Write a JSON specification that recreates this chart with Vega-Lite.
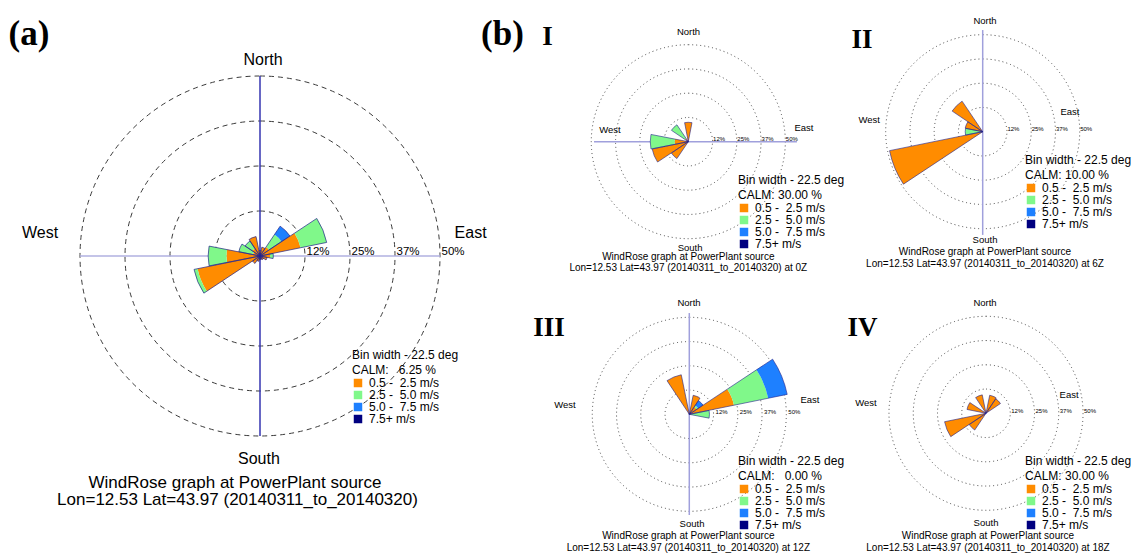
{
"$schema": "https://vega.github.io/schema/vega-lite/v6.json",
"padding": 0,
"background": "white",
"config": {
 "view": {"stroke": null},
 "axis": {"disable": true},
 "text": {"font": "Liberation Sans", "color": "#000"},
 "legend": {"titleFont": "Liberation Sans", "titleFontSize": 12, "titleFontWeight": "normal", "titleColor": "#000", "titleLineHeight": 15, "titlePadding": 0, "labelFont": "Liberation Sans", "labelFontSize": 12, "labelColor": "#000", "symbolType": "square", "symbolSize": 72, "symbolStrokeWidth": 0, "symbolOpacity": 1, "rowPadding": -0.5, "padding": 0, "labelOffset": 5, "orient": "none", "titleLimit": 400, "labelLimit": 400}
},
"datasets": {
 "one": [{"n": 1}],
 "rings": [{"r": 12.5, "lab": "12%"}, {"r": 25, "lab": "25%"}, {"r": 37.5, "lab": "37%"}, {"r": 50, "lab": "50%"}],
 "wind": [
  {"panel":"a","dir":0,"speed":"0.5 -\u00a0\u00a02.5 m/s","pct":1.5},
  {"panel":"a","dir":22.5,"speed":"0.5 -\u00a0\u00a02.5 m/s","pct":2.5},
  {"panel":"a","dir":45,"speed":"0.5 -\u00a0\u00a02.5 m/s","pct":3.0},
  {"panel":"a","dir":45,"speed":"2.5 -\u00a0\u00a05.0 m/s","pct":4.2},
  {"panel":"a","dir":45,"speed":"5.0 -\u00a0\u00a07.5 m/s","pct":2.8},
  {"panel":"a","dir":67.5,"speed":"0.5 -\u00a0\u00a02.5 m/s","pct":11.5},
  {"panel":"a","dir":67.5,"speed":"2.5 -\u00a0\u00a05.0 m/s","pct":7.4},
  {"panel":"a","dir":90,"speed":"0.5 -\u00a0\u00a02.5 m/s","pct":2.8},
  {"panel":"a","dir":90,"speed":"2.5 -\u00a0\u00a05.0 m/s","pct":0.9},
  {"panel":"a","dir":112.5,"speed":"0.5 -\u00a0\u00a02.5 m/s","pct":2.0},
  {"panel":"a","dir":135,"speed":"0.5 -\u00a0\u00a02.5 m/s","pct":1.2},
  {"panel":"a","dir":157.5,"speed":"0.5 -\u00a0\u00a02.5 m/s","pct":1.0},
  {"panel":"a","dir":180,"speed":"0.5 -\u00a0\u00a02.5 m/s","pct":1.0},
  {"panel":"a","dir":202.5,"speed":"0.5 -\u00a0\u00a02.5 m/s","pct":1.5},
  {"panel":"a","dir":225,"speed":"0.5 -\u00a0\u00a02.5 m/s","pct":2.5},
  {"panel":"a","dir":247.5,"speed":"0.5 -\u00a0\u00a02.5 m/s","pct":17.7},
  {"panel":"a","dir":247.5,"speed":"2.5 -\u00a0\u00a05.0 m/s","pct":1.0},
  {"panel":"a","dir":270,"speed":"0.5 -\u00a0\u00a02.5 m/s","pct":9.3},
  {"panel":"a","dir":270,"speed":"2.5 -\u00a0\u00a05.0 m/s","pct":5.1},
  {"panel":"a","dir":292.5,"speed":"0.5 -\u00a0\u00a02.5 m/s","pct":2.0},
  {"panel":"a","dir":292.5,"speed":"2.5 -\u00a0\u00a05.0 m/s","pct":4.0},
  {"panel":"a","dir":315,"speed":"0.5 -\u00a0\u00a02.5 m/s","pct":2.5},
  {"panel":"a","dir":315,"speed":"2.5 -\u00a0\u00a05.0 m/s","pct":2.5},
  {"panel":"a","dir":337.5,"speed":"0.5 -\u00a0\u00a02.5 m/s","pct":5.5},
  {"panel":"0Z","dir":0,"speed":"0.5 -\u00a0\u00a02.5 m/s","pct":10},
  {"panel":"0Z","dir":225,"speed":"0.5 -\u00a0\u00a02.5 m/s","pct":10.5},
  {"panel":"0Z","dir":247.5,"speed":"0.5 -\u00a0\u00a02.5 m/s","pct":19},
  {"panel":"0Z","dir":270,"speed":"0.5 -\u00a0\u00a02.5 m/s","pct":7},
  {"panel":"0Z","dir":270,"speed":"2.5 -\u00a0\u00a05.0 m/s","pct":12.6},
  {"panel":"0Z","dir":315,"speed":"0.5 -\u00a0\u00a02.5 m/s","pct":2},
  {"panel":"0Z","dir":315,"speed":"2.5 -\u00a0\u00a05.0 m/s","pct":8.5},
  {"panel":"6Z","dir":247.5,"speed":"0.5 -\u00a0\u00a02.5 m/s","pct":49},
  {"panel":"6Z","dir":270,"speed":"0.5 -\u00a0\u00a02.5 m/s","pct":0.5},
  {"panel":"6Z","dir":270,"speed":"2.5 -\u00a0\u00a05.0 m/s","pct":8.5},
  {"panel":"6Z","dir":292.5,"speed":"0.5 -\u00a0\u00a02.5 m/s","pct":9.2},
  {"panel":"6Z","dir":315,"speed":"0.5 -\u00a0\u00a02.5 m/s","pct":19},
  {"panel":"12Z","dir":22.5,"speed":"0.5 -\u00a0\u00a02.5 m/s","pct":10},
  {"panel":"12Z","dir":45,"speed":"0.5 -\u00a0\u00a02.5 m/s","pct":4.5},
  {"panel":"12Z","dir":45,"speed":"2.5 -\u00a0\u00a05.0 m/s","pct":1},
  {"panel":"12Z","dir":45,"speed":"5.0 -\u00a0\u00a07.5 m/s","pct":3},
  {"panel":"12Z","dir":67.5,"speed":"0.5 -\u00a0\u00a02.5 m/s","pct":23.5},
  {"panel":"12Z","dir":67.5,"speed":"2.5 -\u00a0\u00a05.0 m/s","pct":18},
  {"panel":"12Z","dir":67.5,"speed":"5.0 -\u00a0\u00a07.5 m/s","pct":10},
  {"panel":"12Z","dir":90,"speed":"0.5 -\u00a0\u00a02.5 m/s","pct":1},
  {"panel":"12Z","dir":90,"speed":"2.5 -\u00a0\u00a05.0 m/s","pct":9.4},
  {"panel":"12Z","dir":337.5,"speed":"0.5 -\u00a0\u00a02.5 m/s","pct":20.8},
  {"panel":"18Z","dir":22.5,"speed":"0.5 -\u00a0\u00a02.5 m/s","pct":9.5},
  {"panel":"18Z","dir":45,"speed":"0.5 -\u00a0\u00a02.5 m/s","pct":9},
  {"panel":"18Z","dir":225,"speed":"0.5 -\u00a0\u00a02.5 m/s","pct":10.4},
  {"panel":"18Z","dir":247.5,"speed":"0.5 -\u00a0\u00a02.5 m/s","pct":21.8},
  {"panel":"18Z","dir":292.5,"speed":"0.5 -\u00a0\u00a02.5 m/s","pct":10},
  {"panel":"18Z","dir":337.5,"speed":"0.5 -\u00a0\u00a02.5 m/s","pct":9.7}
 ]
},
"columns": 3,
"spacing": 0,
"bounds": "flush",
"align": "each",
"resolve": {"scale": {"color": "independent", "radius": "independent", "theta": "independent"}, "legend": {"color": "independent"}},
"concat": [
 {
  "width": 470, "height": 283,
  "layer": [
   {"data": {"name": "rings"}, "mark": {"type": "arc", "filled": false, "stroke": "#3a3a3a", "strokeWidth": 1, "strokeDash": [5, 4]},
    "encoding": {
     "x": {"datum": 0, "type": "quantitative", "scale": {"domain": [-72.22, 58.33], "nice": false, "zero": false}, "axis": null},
     "y": {"datum": 0, "type": "quantitative", "scale": {"domain": [-7.5, 71.11], "nice": false, "zero": false}, "axis": null},
     "radius": {"field": "r", "type": "quantitative", "stack": null, "scale": {"type": "linear", "domain": [0, 50], "range": [0, 180], "zero": true, "nice": false}},
     "theta": {"datum": 0, "type": "quantitative", "scale": {"domain": [0, 360], "range": [0, 6.2832]}},
     "theta2": {"datum": 360}}},
   {"data": {"name": "rings"}, "mark": {"type": "text", "fontSize": 11.5, "align": "left", "baseline": "alphabetic", "dx": 1.5},
    "encoding": {"text": {"field": "lab"}, "x": {"field": "r", "type": "quantitative", "axis": null}, "y": {"datum": 0.3, "type": "quantitative", "axis": null}}},
   {"data": {"name": "one"}, "mark": {"type": "rule", "color": "#3535b0", "strokeWidth": 1.5},
    "encoding": {"x": {"datum": 0, "type": "quantitative", "axis": null}, "y": {"datum": -50, "type": "quantitative", "axis": null}, "y2": {"datum": 50}}},
   {"data": {"name": "one"}, "mark": {"type": "rule", "color": "#b0b0e0", "strokeWidth": 1.5},
    "encoding": {"y": {"datum": 0, "type": "quantitative", "axis": null}, "x": {"datum": -50, "type": "quantitative", "axis": null}, "x2": {"datum": 50}}},
   {"data": {"name": "wind"},
    "transform": [{"filter": "datum.panel === 'a'"}, {"stack": "pct", "groupby": ["dir"], "sort": [{"field": "speed"}], "as": ["r0", "r1"]}, {"calculate": "datum.dir - 11", "as": "a0"}, {"calculate": "datum.dir + 11", "as": "a1"}],
    "mark": {"type": "arc", "opacity": 1},
    "encoding": {
     "x": {"datum": 0, "type": "quantitative", "axis": null},
     "y": {"datum": 0, "type": "quantitative", "axis": null},
     "theta": {"field": "a0", "type": "quantitative", "stack": null, "scale": {"domain": [0, 360], "range": [0, 6.2832]}},
     "theta2": {"field": "a1"},
     "radius": {"field": "r1", "type": "quantitative", "stack": null, "scale": {"type": "linear", "domain": [0, 50], "range": [0, 180], "zero": true, "nice": false}},
     "radius2": {"field": "r0"},
     "color": {"field": "speed", "type": "nominal",
      "scale": {"domain": ["0.5 -\u00a0\u00a02.5 m/s", "2.5 -\u00a0\u00a05.0 m/s", "5.0 -\u00a0\u00a07.5 m/s", "7.5+ m/s"], "range": ["#FF8C00", "#80F88A", "#1E80FF", "#000080"]},
      "legend": {"title": ["Bin width - 22.5 deg", "CALM:\u00a0\u00a0\u00a06.25 %"], "legendX": 352, "legendY": 350}}}},
   {"data": {"name": "wind"},
    "transform": [{"filter": "datum.panel === 'a'"}, {"aggregate": [{"op": "sum", "field": "pct", "as": "tot"}], "groupby": ["dir"]}, {"calculate": "datum.dir - 11", "as": "a0"}, {"calculate": "datum.dir + 11", "as": "a1"}],
    "mark": {"type": "arc", "filled": false, "stroke": "#22228c", "strokeWidth": 0.7},
    "encoding": {"x": {"datum": 0, "type": "quantitative", "axis": null}, "y": {"datum": 0, "type": "quantitative", "axis": null},
     "theta": {"field": "a0", "type": "quantitative", "stack": null}, "theta2": {"field": "a1"},
     "radius": {"field": "tot", "type": "quantitative", "stack": null}}},
   {"data": {"name": "one"}, "mark": {"type": "text", "fontSize": 16, "align": "center", "baseline": "middle"},
    "encoding": {"text": {"value": "North"}, "x": {"datum": 0.83, "type": "quantitative", "axis": null}, "y": {"datum": 54.4, "type": "quantitative", "axis": null}}},
   {"data": {"name": "one"}, "mark": {"type": "text", "fontSize": 16, "align": "center", "baseline": "middle"},
    "encoding": {"text": {"value": "South"}, "x": {"datum": -0.3, "type": "quantitative", "axis": null}, "y": {"datum": -56.4, "type": "quantitative", "axis": null}}},
   {"data": {"name": "one"}, "mark": {"type": "text", "fontSize": 16, "align": "center", "baseline": "middle"},
    "encoding": {"text": {"value": "West"}, "x": {"datum": -61.1, "type": "quantitative", "axis": null}, "y": {"datum": 6.25, "type": "quantitative", "axis": null}}},
   {"data": {"name": "one"}, "mark": {"type": "text", "fontSize": 16, "align": "center", "baseline": "middle"},
    "encoding": {"text": {"value": "East"}, "x": {"datum": 58.5, "type": "quantitative", "axis": null}, "y": {"datum": 6.25, "type": "quantitative", "axis": null}}},
   {"data": {"name": "one"}, "mark": {"type": "text", "fontSize": 35, "fontWeight": "bold", "font": "Liberation Serif", "align": "center", "baseline": "middle"},
    "encoding": {"text": {"value": "(a)"}, "x": {"datum": -64.17, "type": "quantitative", "axis": null}, "y": {"datum": 61.67, "type": "quantitative", "axis": null}}}
  ]
 },
 {
  "width": 315, "height": 283,
  "layer": [
   {"data": {"name": "rings"}, "mark": {"type": "arc", "filled": false, "stroke": "#444", "strokeWidth": 1, "strokeDash": [1, 3]},
    "encoding": {
     "x": {"datum": 0, "type": "quantitative", "scale": {"domain": [-112.53, 49.85], "nice": false, "zero": false}, "axis": null},
     "y": {"datum": 0, "type": "quantitative", "scale": {"domain": [-72.84, 73.04], "nice": false, "zero": false}, "axis": null},
     "radius": {"field": "r", "type": "quantitative", "stack": null, "scale": {"type": "linear", "domain": [0, 50], "range": [0, 97], "zero": true, "nice": false}},
     "theta": {"datum": 0, "type": "quantitative", "scale": {"domain": [0, 360], "range": [0, 6.2832]}},
     "theta2": {"datum": 360}}},
   {"data": {"name": "rings"}, "mark": {"type": "text", "fontSize": 6, "align": "left", "baseline": "alphabetic", "dx": 0.5},
    "encoding": {"text": {"field": "lab"}, "x": {"field": "r", "type": "quantitative", "axis": null}, "y": {"datum": 0.3, "type": "quantitative", "axis": null}}},
   {"data": {"name": "one"}, "mark": {"type": "rule", "color": "#a0a0dc", "strokeWidth": 1.5},
    "encoding": {"y": {"datum": 0, "type": "quantitative", "axis": null}, "x": {"datum": -48.6, "type": "quantitative", "axis": null}, "x2": {"datum": 56}}},
   {"data": {"name": "wind"},
    "transform": [{"filter": "datum.panel === '0Z'"}, {"stack": "pct", "groupby": ["dir"], "sort": [{"field": "speed"}], "as": ["r0", "r1"]}, {"calculate": "datum.dir - 11", "as": "a0"}, {"calculate": "datum.dir + 11", "as": "a1"}],
    "mark": {"type": "arc", "opacity": 1},
    "encoding": {
     "x": {"datum": 0, "type": "quantitative", "axis": null},
     "y": {"datum": 0, "type": "quantitative", "axis": null},
     "theta": {"field": "a0", "type": "quantitative", "stack": null, "scale": {"domain": [0, 360], "range": [0, 6.2832]}},
     "theta2": {"field": "a1"},
     "radius": {"field": "r1", "type": "quantitative", "stack": null, "scale": {"type": "linear", "domain": [0, 50], "range": [0, 97], "zero": true, "nice": false}},
     "radius2": {"field": "r0"},
     "color": {"field": "speed", "type": "nominal",
      "scale": {"domain": ["0.5 -\u00a0\u00a02.5 m/s", "2.5 -\u00a0\u00a05.0 m/s", "5.0 -\u00a0\u00a07.5 m/s", "7.5+ m/s"], "range": ["#FF8C00", "#80F88A", "#1E80FF", "#000080"]},
      "legend": {"title": ["Bin width - 22.5 deg", "CALM: 30.00 %"], "legendX": 268, "legendY": 175}}}},
   {"data": {"name": "wind"},
    "transform": [{"filter": "datum.panel === '0Z'"}, {"aggregate": [{"op": "sum", "field": "pct", "as": "tot"}], "groupby": ["dir"]}, {"calculate": "datum.dir - 11", "as": "a0"}, {"calculate": "datum.dir + 11", "as": "a1"}],
    "mark": {"type": "arc", "filled": false, "stroke": "#22228c", "strokeWidth": 0.6},
    "encoding": {"x": {"datum": 0, "type": "quantitative", "axis": null}, "y": {"datum": 0, "type": "quantitative", "axis": null},
     "theta": {"field": "a0", "type": "quantitative", "stack": null}, "theta2": {"field": "a1"},
     "radius": {"field": "tot", "type": "quantitative", "stack": null}}},
   {"data": {"name": "one"}, "mark": {"type": "text", "fontSize": 9.5, "align": "center", "baseline": "middle"},
    "encoding": {"text": {"value": "North"}, "x": {"datum": 0.1, "type": "quantitative", "axis": null}, "y": {"datum": 56.7, "type": "quantitative", "axis": null}}},
   {"data": {"name": "one"}, "mark": {"type": "text", "fontSize": 9.5, "align": "center", "baseline": "middle"},
    "encoding": {"text": {"value": "South"}, "x": {"datum": 0.9, "type": "quantitative", "axis": null}, "y": {"datum": -54.8, "type": "quantitative", "axis": null}}},
   {"data": {"name": "one"}, "mark": {"type": "text", "fontSize": 9.5, "align": "center", "baseline": "middle"},
    "encoding": {"text": {"value": "West"}, "x": {"datum": -40.4, "type": "quantitative", "axis": null}, "y": {"datum": 6.0, "type": "quantitative", "axis": null}}},
   {"data": {"name": "one"}, "mark": {"type": "text", "fontSize": 9.5, "align": "center", "baseline": "middle"},
    "encoding": {"text": {"value": "East"}, "x": {"datum": 59.6, "type": "quantitative", "axis": null}, "y": {"datum": 7.1, "type": "quantitative", "axis": null}}},
   {"data": {"name": "one"}, "mark": {"type": "text", "fontSize": 10, "align": "center", "baseline": "middle"},
    "encoding": {"text": {"value": "WindRose graph at PowerPlant source"}, "x": {"datum": 0, "type": "quantitative", "axis": null}, "y": {"datum": -59.4, "type": "quantitative", "axis": null}}},
   {"data": {"name": "one"}, "mark": {"type": "text", "fontSize": 10, "align": "center", "baseline": "middle"},
    "encoding": {"text": {"value": "Lon=12.53 Lat=43.97 (20140311_to_20140320) at 0Z"}, "x": {"datum": 0, "type": "quantitative", "axis": null}, "y": {"datum": -65.1, "type": "quantitative", "axis": null}}},
   {"data": {"name": "one"}, "mark": {"type": "text", "fontSize": 35, "fontWeight": "bold", "font": "Liberation Serif", "align": "center", "baseline": "middle"},
    "encoding": {"text": {"value": "(b)"}, "x": {"datum": -95.77, "type": "quantitative", "axis": null}, "y": {"datum": 55.52, "type": "quantitative", "axis": null}}},
   {"data": {"name": "one"}, "mark": {"type": "text", "fontSize": 27, "fontWeight": "bold", "font": "Liberation Serif", "align": "center", "baseline": "alphabetic"},
    "encoding": {"text": {"value": "I"}, "x": {"datum": -72.58, "type": "quantitative", "axis": null}, "y": {"datum": 49.85, "type": "quantitative", "axis": null}}}
  ]
 },
 {
  "width": 350, "height": 283,
  "layer": [
   {"data": {"name": "rings"}, "mark": {"type": "arc", "filled": false, "stroke": "#444", "strokeWidth": 1, "strokeDash": [1, 3]},
    "encoding": {
     "x": {"datum": 0, "type": "quantitative", "scale": {"domain": [-101.91, 78.51], "nice": false, "zero": false}, "axis": null},
     "y": {"datum": 0, "type": "quantitative", "scale": {"domain": [-77.99, 67.89], "nice": false, "zero": false}, "axis": null},
     "radius": {"field": "r", "type": "quantitative", "stack": null, "scale": {"type": "linear", "domain": [0, 50], "range": [0, 97], "zero": true, "nice": false}},
     "theta": {"datum": 0, "type": "quantitative", "scale": {"domain": [0, 360], "range": [0, 6.2832]}},
     "theta2": {"datum": 360}}},
   {"data": {"name": "rings"}, "mark": {"type": "text", "fontSize": 6, "align": "left", "baseline": "alphabetic", "dx": 0.5},
    "encoding": {"text": {"field": "lab"}, "x": {"field": "r", "type": "quantitative", "axis": null}, "y": {"datum": 0.3, "type": "quantitative", "axis": null}}},
   {"data": {"name": "one"}, "mark": {"type": "rule", "color": "#a0a0dc", "strokeWidth": 1.5},
    "encoding": {"x": {"datum": 0, "type": "quantitative", "axis": null}, "y": {"datum": -53.2, "type": "quantitative", "axis": null}, "y2": {"datum": 52.4}}},
   {"data": {"name": "wind"},
    "transform": [{"filter": "datum.panel === '6Z'"}, {"stack": "pct", "groupby": ["dir"], "sort": [{"field": "speed"}], "as": ["r0", "r1"]}, {"calculate": "datum.dir - 11", "as": "a0"}, {"calculate": "datum.dir + 11", "as": "a1"}],
    "mark": {"type": "arc", "opacity": 1},
    "encoding": {
     "x": {"datum": 0, "type": "quantitative", "axis": null},
     "y": {"datum": 0, "type": "quantitative", "axis": null},
     "theta": {"field": "a0", "type": "quantitative", "stack": null, "scale": {"domain": [0, 360], "range": [0, 6.2832]}},
     "theta2": {"field": "a1"},
     "radius": {"field": "r1", "type": "quantitative", "stack": null, "scale": {"type": "linear", "domain": [0, 50], "range": [0, 97], "zero": true, "nice": false}},
     "radius2": {"field": "r0"},
     "color": {"field": "speed", "type": "nominal",
      "scale": {"domain": ["0.5 -\u00a0\u00a02.5 m/s", "2.5 -\u00a0\u00a05.0 m/s", "5.0 -\u00a0\u00a07.5 m/s", "7.5+ m/s"], "range": ["#FF8C00", "#80F88A", "#1E80FF", "#000080"]},
      "legend": {"title": ["Bin width - 22.5 deg", "CALM: 10.00 %"], "legendX": 240, "legendY": 155}}}},
   {"data": {"name": "wind"},
    "transform": [{"filter": "datum.panel === '6Z'"}, {"aggregate": [{"op": "sum", "field": "pct", "as": "tot"}], "groupby": ["dir"]}, {"calculate": "datum.dir - 11", "as": "a0"}, {"calculate": "datum.dir + 11", "as": "a1"}],
    "mark": {"type": "arc", "filled": false, "stroke": "#22228c", "strokeWidth": 0.6},
    "encoding": {"x": {"datum": 0, "type": "quantitative", "axis": null}, "y": {"datum": 0, "type": "quantitative", "axis": null},
     "theta": {"field": "a0", "type": "quantitative", "stack": null}, "theta2": {"field": "a1"},
     "radius": {"field": "tot", "type": "quantitative", "stack": null}}},
   {"data": {"name": "one"}, "mark": {"type": "text", "fontSize": 9.5, "align": "center", "baseline": "middle"},
    "encoding": {"text": {"value": "North"}, "x": {"datum": 1.2, "type": "quantitative", "axis": null}, "y": {"datum": 57.3, "type": "quantitative", "axis": null}}},
   {"data": {"name": "one"}, "mark": {"type": "text", "fontSize": 9.5, "align": "center", "baseline": "middle"},
    "encoding": {"text": {"value": "South"}, "x": {"datum": 1.2, "type": "quantitative", "axis": null}, "y": {"datum": -55.8, "type": "quantitative", "axis": null}}},
   {"data": {"name": "one"}, "mark": {"type": "text", "fontSize": 9.5, "align": "center", "baseline": "middle"},
    "encoding": {"text": {"value": "West"}, "x": {"datum": -58.5, "type": "quantitative", "axis": null}, "y": {"datum": 6.0, "type": "quantitative", "axis": null}}},
   {"data": {"name": "one"}, "mark": {"type": "text", "fontSize": 9.5, "align": "center", "baseline": "middle"},
    "encoding": {"text": {"value": "East"}, "x": {"datum": 45, "type": "quantitative", "axis": null}, "y": {"datum": 10.2, "type": "quantitative", "axis": null}}},
   {"data": {"name": "one"}, "mark": {"type": "text", "fontSize": 10, "align": "center", "baseline": "middle"},
    "encoding": {"text": {"value": "WindRose graph at PowerPlant source"}, "x": {"datum": 1.2, "type": "quantitative", "axis": null}, "y": {"datum": -62.0, "type": "quantitative", "axis": null}}},
   {"data": {"name": "one"}, "mark": {"type": "text", "fontSize": 10, "align": "center", "baseline": "middle"},
    "encoding": {"text": {"value": "Lon=12.53 Lat=43.97 (20140311_to_20140320) at 6Z"}, "x": {"datum": 1.2, "type": "quantitative", "axis": null}, "y": {"datum": -68.2, "type": "quantitative", "axis": null}}},
   {"data": {"name": "one"}, "mark": {"type": "text", "fontSize": 27, "fontWeight": "bold", "font": "Liberation Serif", "align": "center", "baseline": "alphabetic"},
    "encoding": {"text": {"value": "II"}, "x": {"datum": -62.2, "type": "quantitative", "axis": null}, "y": {"datum": 43.1, "type": "quantitative", "axis": null}}}
  ]
 },
 {
  "width": 470, "height": 270,
  "layer": [
   {"data": {"name": "one"}, "mark": {"type": "text", "fontSize": 17, "align": "center", "baseline": "alphabetic"},
    "encoding": {"text": {"value": "WindRose graph at PowerPlant source"},
     "x": {"datum": -6.94, "type": "quantitative", "scale": {"domain": [-72.22, 58.33], "nice": false, "zero": false}, "axis": null},
     "y": {"datum": -64.44, "type": "quantitative", "scale": {"domain": [-82.5, -7.5], "nice": false, "zero": false}, "axis": null}}},
   {"data": {"name": "one"}, "mark": {"type": "text", "fontSize": 17, "align": "center", "baseline": "alphabetic"},
    "encoding": {"text": {"value": "Lon=12.53 Lat=43.97 (20140311_to_20140320)"},
     "x": {"datum": -6.25, "type": "quantitative", "axis": null},
     "y": {"datum": -69.17, "type": "quantitative", "axis": null}}}
  ]
 },
 {
  "width": 315, "height": 270,
  "layer": [
   {"data": {"name": "rings"}, "mark": {"type": "arc", "filled": false, "stroke": "#444", "strokeWidth": 1, "strokeDash": [1, 3]},
    "encoding": {
     "x": {"datum": 0, "type": "quantitative", "scale": {"domain": [-113.04, 49.33], "nice": false, "zero": false}, "axis": null},
     "y": {"datum": 0, "type": "quantitative", "scale": {"domain": [-71.49, 67.68], "nice": false, "zero": false}, "axis": null},
     "radius": {"field": "r", "type": "quantitative", "stack": null, "scale": {"type": "linear", "domain": [0, 50], "range": [0, 97], "zero": true, "nice": false}},
     "theta": {"datum": 0, "type": "quantitative", "scale": {"domain": [0, 360], "range": [0, 6.2832]}},
     "theta2": {"datum": 360}}},
   {"data": {"name": "rings"}, "mark": {"type": "text", "fontSize": 6, "align": "left", "baseline": "alphabetic", "dx": 2},
    "encoding": {"text": {"field": "lab"}, "x": {"field": "r", "type": "quantitative", "axis": null}, "y": {"datum": 0.3, "type": "quantitative", "axis": null}}},
   {"data": {"name": "one"}, "mark": {"type": "rule", "color": "#a0a0dc", "strokeWidth": 1.5},
    "encoding": {"x": {"datum": 0, "type": "quantitative", "axis": null}, "y": {"datum": -51.9, "type": "quantitative", "axis": null}, "y2": {"datum": 52.2}}},
   {"data": {"name": "wind"},
    "transform": [{"filter": "datum.panel === '12Z'"}, {"stack": "pct", "groupby": ["dir"], "sort": [{"field": "speed"}], "as": ["r0", "r1"]}, {"calculate": "datum.dir - 11", "as": "a0"}, {"calculate": "datum.dir + 11", "as": "a1"}],
    "mark": {"type": "arc", "opacity": 1},
    "encoding": {
     "x": {"datum": 0, "type": "quantitative", "axis": null},
     "y": {"datum": 0, "type": "quantitative", "axis": null},
     "theta": {"field": "a0", "type": "quantitative", "stack": null, "scale": {"domain": [0, 360], "range": [0, 6.2832]}},
     "theta2": {"field": "a1"},
     "radius": {"field": "r1", "type": "quantitative", "stack": null, "scale": {"type": "linear", "domain": [0, 50], "range": [0, 97], "zero": true, "nice": false}},
     "radius2": {"field": "r0"},
     "color": {"field": "speed", "type": "nominal",
      "scale": {"domain": ["0.5 -\u00a0\u00a02.5 m/s", "2.5 -\u00a0\u00a05.0 m/s", "5.0 -\u00a0\u00a07.5 m/s", "7.5+ m/s"], "range": ["#FF8C00", "#80F88A", "#1E80FF", "#000080"]},
      "legend": {"title": ["Bin width - 22.5 deg", "CALM:\u00a0\u00a0\u00a00.00 %"], "legendX": 268, "legendY": 173}}}},
   {"data": {"name": "wind"},
    "transform": [{"filter": "datum.panel === '12Z'"}, {"aggregate": [{"op": "sum", "field": "pct", "as": "tot"}], "groupby": ["dir"]}, {"calculate": "datum.dir - 11", "as": "a0"}, {"calculate": "datum.dir + 11", "as": "a1"}],
    "mark": {"type": "arc", "filled": false, "stroke": "#22228c", "strokeWidth": 0.6},
    "encoding": {"x": {"datum": 0, "type": "quantitative", "axis": null}, "y": {"datum": 0, "type": "quantitative", "axis": null},
     "theta": {"field": "a0", "type": "quantitative", "stack": null}, "theta2": {"field": "a1"},
     "radius": {"field": "tot", "type": "quantitative", "stack": null}}},
   {"data": {"name": "one"}, "mark": {"type": "text", "fontSize": 9.5, "align": "center", "baseline": "middle"},
    "encoding": {"text": {"value": "North"}, "x": {"datum": -0.15, "type": "quantitative", "axis": null}, "y": {"datum": 57.4, "type": "quantitative", "axis": null}}},
   {"data": {"name": "one"}, "mark": {"type": "text", "fontSize": 9.5, "align": "center", "baseline": "middle"},
    "encoding": {"text": {"value": "South"}, "x": {"datum": 1.4, "type": "quantitative", "axis": null}, "y": {"datum": -56.3, "type": "quantitative", "axis": null}}},
   {"data": {"name": "one"}, "mark": {"type": "text", "fontSize": 9.5, "align": "center", "baseline": "middle"},
    "encoding": {"text": {"value": "West"}, "x": {"datum": -64.1, "type": "quantitative", "axis": null}, "y": {"datum": 4.8, "type": "quantitative", "axis": null}}},
   {"data": {"name": "one"}, "mark": {"type": "text", "fontSize": 9.5, "align": "center", "baseline": "middle"},
    "encoding": {"text": {"value": "East"}, "x": {"datum": 62.2, "type": "quantitative", "axis": null}, "y": {"datum": 7.2, "type": "quantitative", "axis": null}}},
   {"data": {"name": "one"}, "mark": {"type": "text", "fontSize": 10, "align": "center", "baseline": "middle"},
    "encoding": {"text": {"value": "WindRose graph at PowerPlant source"}, "x": {"datum": -0.5, "type": "quantitative", "axis": null}, "y": {"datum": -62.7, "type": "quantitative", "axis": null}}},
   {"data": {"name": "one"}, "mark": {"type": "text", "fontSize": 10, "align": "center", "baseline": "middle"},
    "encoding": {"text": {"value": "Lon=12.53 Lat=43.97 (20140311_to_20140320) at 12Z"}, "x": {"datum": -0.5, "type": "quantitative", "axis": null}, "y": {"datum": -68.9, "type": "quantitative", "axis": null}}},
   {"data": {"name": "one"}, "mark": {"type": "text", "fontSize": 27, "fontWeight": "bold", "font": "Liberation Serif", "align": "center", "baseline": "alphabetic"},
    "encoding": {"text": {"value": "III"}, "x": {"datum": -72.3, "type": "quantitative", "axis": null}, "y": {"datum": 40.4, "type": "quantitative", "axis": null}}}
  ]
 },
 {
  "width": 350, "height": 270,
  "layer": [
   {"data": {"name": "rings"}, "mark": {"type": "arc", "filled": false, "stroke": "#444", "strokeWidth": 1, "strokeDash": [1, 3]},
    "encoding": {
     "x": {"datum": 0, "type": "quantitative", "scale": {"domain": [-103.61, 76.8], "nice": false, "zero": false}, "axis": null},
     "y": {"datum": 0, "type": "quantitative", "scale": {"domain": [-72.01, 67.16], "nice": false, "zero": false}, "axis": null},
     "radius": {"field": "r", "type": "quantitative", "stack": null, "scale": {"type": "linear", "domain": [0, 50], "range": [0, 97], "zero": true, "nice": false}},
     "theta": {"datum": 0, "type": "quantitative", "scale": {"domain": [0, 360], "range": [0, 6.2832]}},
     "theta2": {"datum": 360}}},
   {"data": {"name": "rings"}, "mark": {"type": "text", "fontSize": 6, "align": "left", "baseline": "alphabetic", "dx": 1},
    "encoding": {"text": {"field": "lab"}, "x": {"field": "r", "type": "quantitative", "axis": null}, "y": {"datum": 0.3, "type": "quantitative", "axis": null}}},
   {"data": {"name": "wind"},
    "transform": [{"filter": "datum.panel === '18Z'"}, {"stack": "pct", "groupby": ["dir"], "sort": [{"field": "speed"}], "as": ["r0", "r1"]}, {"calculate": "datum.dir - 11", "as": "a0"}, {"calculate": "datum.dir + 11", "as": "a1"}],
    "mark": {"type": "arc", "opacity": 1},
    "encoding": {
     "x": {"datum": 0, "type": "quantitative", "axis": null},
     "y": {"datum": 0, "type": "quantitative", "axis": null},
     "theta": {"field": "a0", "type": "quantitative", "stack": null, "scale": {"domain": [0, 360], "range": [0, 6.2832]}},
     "theta2": {"field": "a1"},
     "radius": {"field": "r1", "type": "quantitative", "stack": null, "scale": {"type": "linear", "domain": [0, 50], "range": [0, 97], "zero": true, "nice": false}},
     "radius2": {"field": "r0"},
     "color": {"field": "speed", "type": "nominal",
      "scale": {"domain": ["0.5 -\u00a0\u00a02.5 m/s", "2.5 -\u00a0\u00a05.0 m/s", "5.0 -\u00a0\u00a07.5 m/s", "7.5+ m/s"], "range": ["#FF8C00", "#80F88A", "#1E80FF", "#000080"]},
      "legend": {"title": ["Bin width - 22.5 deg", "CALM: 30.00 %"], "legendX": 240, "legendY": 173}}}},
   {"data": {"name": "wind"},
    "transform": [{"filter": "datum.panel === '18Z'"}, {"aggregate": [{"op": "sum", "field": "pct", "as": "tot"}], "groupby": ["dir"]}, {"calculate": "datum.dir - 11", "as": "a0"}, {"calculate": "datum.dir + 11", "as": "a1"}],
    "mark": {"type": "arc", "filled": false, "stroke": "#22228c", "strokeWidth": 0.6},
    "encoding": {"x": {"datum": 0, "type": "quantitative", "axis": null}, "y": {"datum": 0, "type": "quantitative", "axis": null},
     "theta": {"field": "a0", "type": "quantitative", "stack": null}, "theta2": {"field": "a1"},
     "radius": {"field": "tot", "type": "quantitative", "stack": null}}},
   {"data": {"name": "one"}, "mark": {"type": "text", "fontSize": 9.5, "align": "center", "baseline": "middle"},
    "encoding": {"text": {"value": "North"}, "x": {"datum": -0.5, "type": "quantitative", "axis": null}, "y": {"datum": 56.9, "type": "quantitative", "axis": null}}},
   {"data": {"name": "one"}, "mark": {"type": "text", "fontSize": 9.5, "align": "center", "baseline": "middle"},
    "encoding": {"text": {"value": "South"}, "x": {"datum": 0, "type": "quantitative", "axis": null}, "y": {"datum": -56.5, "type": "quantitative", "axis": null}}},
   {"data": {"name": "one"}, "mark": {"type": "text", "fontSize": 9.5, "align": "center", "baseline": "middle"},
    "encoding": {"text": {"value": "West"}, "x": {"datum": -61.9, "type": "quantitative", "axis": null}, "y": {"datum": 5.3, "type": "quantitative", "axis": null}}},
   {"data": {"name": "one"}, "mark": {"type": "text", "fontSize": 9.5, "align": "center", "baseline": "middle"},
    "encoding": {"text": {"value": "East"}, "x": {"datum": 42.8, "type": "quantitative", "axis": null}, "y": {"datum": 9.4, "type": "quantitative", "axis": null}}},
   {"data": {"name": "one"}, "mark": {"type": "text", "fontSize": 10, "align": "center", "baseline": "middle"},
    "encoding": {"text": {"value": "WindRose graph at PowerPlant source"}, "x": {"datum": 1.0, "type": "quantitative", "axis": null}, "y": {"datum": -63.2, "type": "quantitative", "axis": null}}},
   {"data": {"name": "one"}, "mark": {"type": "text", "fontSize": 10, "align": "center", "baseline": "middle"},
    "encoding": {"text": {"value": "Lon=12.53 Lat=43.97 (20140311_to_20140320) at 18Z"}, "x": {"datum": 1.0, "type": "quantitative", "axis": null}, "y": {"datum": -69.4, "type": "quantitative", "axis": null}}},
   {"data": {"name": "one"}, "mark": {"type": "text", "fontSize": 27, "fontWeight": "bold", "font": "Liberation Serif", "align": "center", "baseline": "alphabetic"},
    "encoding": {"text": {"value": "IV"}, "x": {"datum": -63.7, "type": "quantitative", "axis": null}, "y": {"datum": 39.8, "type": "quantitative", "axis": null}}}
  ]
 }
]
}
